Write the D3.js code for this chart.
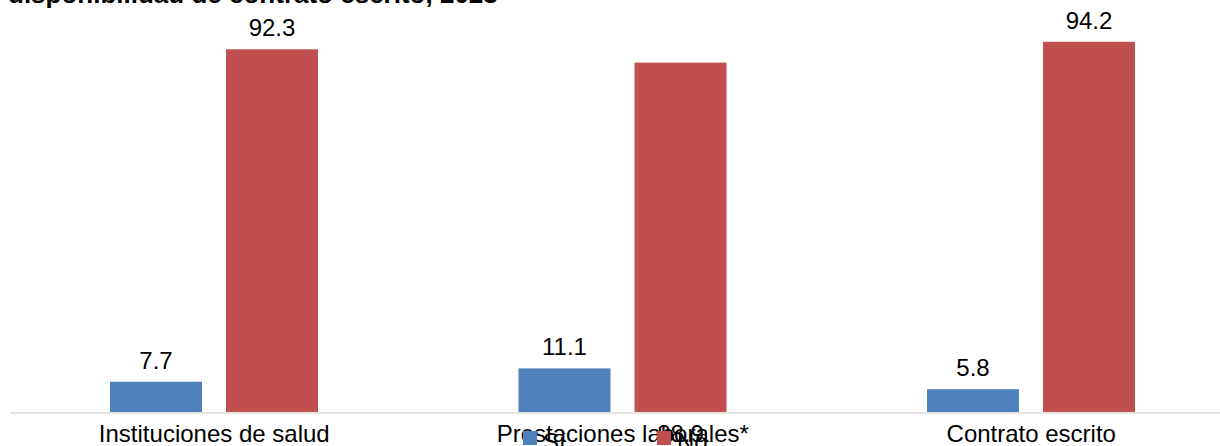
<!DOCTYPE html>
<html>
<head>
<meta charset="utf-8">
<script src="https://cdn.jsdelivr.net/npm/d3@7"></script>
<style>
html,body{margin:0;padding:0;background:#fff;overflow:hidden;}
svg{display:block;font-family:"Liberation Sans",Arial,sans-serif;}
</style>
</head>
<body>
<svg id="chart" width="1220" height="446"></svg>
<script>
const title = "disponibilidad de contrato escrito, 2023";
const categories = ["Instituciones de salud", "Prestaciones laborales*", "Contrato escrito"];
const seriesNames = ["Sí", "No"];
const siValues = [7.7, 11.1, 5.8];
const noValues = [92.3, 88.9, 94.2];
const colors = ["#4F81BD", "#C0504D"];

const svg = d3.select("#chart");
const baseY = 412;

const x = d3.scaleBand().domain(categories).range([10, 1235.5]).padding(0);
const xs = d3.scaleBand().domain(seriesNames).range([100, 308]).paddingInner(0.207).paddingOuter(0);
const y = d3.scaleLinear().domain([0, 100]).range([baseY, 19]);

// title (cut off at top)
svg.append("text").attr("x", 8).attr("y", 3)
  .attr("font-size", 26).attr("font-weight", "bold").attr("fill", "#000")
  .text(title);

const data = [];
categories.forEach((c, i) => {
  data.push({cat: c, s: "Sí", v: siValues[i]});
  data.push({cat: c, s: "No", v: noValues[i]});
});

svg.append("g").selectAll("rect.bar").data(data).enter().append("rect")
  .attr("class", "bar")
  .attr("x", d => x(d.cat) + xs(d.s))
  .attr("width", xs.bandwidth())
  .attr("y", d => y(d.v))
  .attr("height", d => y(0) - y(d.v))
  .attr("fill", d => colors[seriesNames.indexOf(d.s)]);

// axis line
const xAxis = d3.axisBottom(x).tickSize(0).tickPadding(0).tickFormat("");
const ax = svg.append("g").attr("transform", `translate(0,${baseY + 0.5})`).call(xAxis);
ax.select(".domain").attr("stroke", "#d9d9d9").attr("stroke-width", 1.3);

// category labels
svg.selectAll("text.cat").data(categories).enter().append("text")
  .attr("class", "cat")
  .attr("x", d => x(d) + x.bandwidth() / 2)
  .attr("y", 441.5)
  .attr("text-anchor", "middle")
  .attr("font-size", 24).attr("fill", "#000")
  .text(d => d);

// value labels
svg.selectAll("text.val").data(data).enter().append("text")
  .attr("class", "val")
  .attr("x", d => x(d.cat) + xs(d.s) + xs.bandwidth() / 2)
  .attr("y", d => (d.cat === categories[1] && d.s === "No") ? 442 : y(d.v) - 13)
  .attr("text-anchor", "middle")
  .attr("font-size", 24).attr("fill", "#000")
  .text(d => d3.format(".1f")(d.v));

// legend
const legX = [523, 657];
const leg = svg.selectAll("g.leg").data(seriesNames).enter().append("g").attr("class", "leg")
  .attr("transform", (d, i) => `translate(${legX[i]},431)`);
leg.append("rect").attr("width", 14).attr("height", 14)
  .attr("fill", (d, i) => colors[i]);
leg.append("text").attr("x", 20).attr("y", 19)
  .attr("font-size", 24).attr("fill", "#000")
  .text(d => d);
</script>
</body>
</html>
